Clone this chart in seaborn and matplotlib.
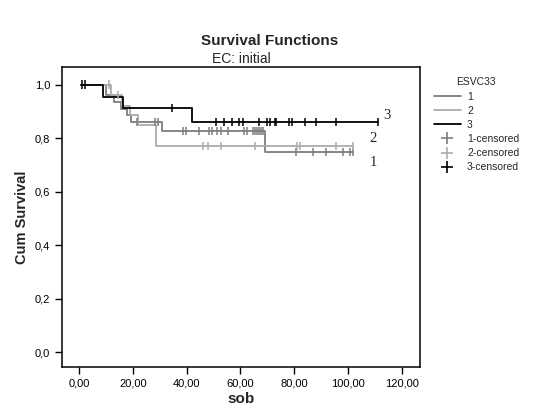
import pandas as pd
import seaborn as sns
import matplotlib.pyplot as plt
from matplotlib.lines import Line2D
from matplotlib.ticker import FuncFormatter

# step functions (time where the level starts, survival level)
g1_times = [0.7, 10, 13, 15.5, 18, 19.5, 31, 69, 102]
g1_surv = [1.0, 0.96, 0.935, 0.91, 0.885, 0.859, 0.827, 0.748, 0.748]
g1_cens = [21.5, 28.2, 29.5, 38.7, 39.8, 44.6, 48.3, 49.4, 51.3, 52.8, 55.4,
           61.3, 62.5, 64.7, 65.5, 66.2, 67, 67.8, 68.5,
           80.7, 87, 91.8, 98, 100.7, 102]

g2_times = [0.7, 12, 16, 19, 22, 28.5, 102]
g2_surv = [1.0, 0.96, 0.92, 0.885, 0.85, 0.77, 0.77]
g2_cens = [11, 14.5, 46, 48, 52.8, 65.4, 81, 82, 95.5, 102]

g3_times = [0.7, 9, 16.5, 42, 111]
g3_surv = [1.0, 0.955, 0.913, 0.859, 0.859]
g3_cens = [1.0, 2.2, 34.6, 51, 54, 57, 59.5, 61, 67, 70, 71, 73, 73.3,
           78, 79, 84, 88, 95.5, 111]

groups = ["1", "2", "3"]
colors = {"1": "#7d7d7d", "2": "#ababab", "3": "#000000"}
xticks = [0, 20, 40, 60, 80, 100, 120]
yticks = [0.0, 0.2, 0.4, 0.6, 0.8, 1.0]


def level_at(times, surv, t):
    s = surv[0]
    for tt, ss in zip(times, surv):
        if tt <= t:
            s = ss
    return s


steps = []
cens = []
for g, times, surv, ct in [("1", g1_times, g1_surv, g1_cens),
                           ("2", g2_times, g2_surv, g2_cens),
                           ("3", g3_times, g3_surv, g3_cens)]:
    for t, s in zip(times, surv):
        steps.append({"time": t, "surv": s, "group": g})
    for t in ct:
        cens.append({"time": t, "surv": level_at(times, surv, t), "group": g})
steps = pd.DataFrame(steps)
cens = pd.DataFrame(cens)

sns.set_style("ticks")
plt.rcParams["font.family"] = ["Liberation Sans", "DejaVu Sans"]

fig = plt.figure(figsize=(5.37, 4.12), dpi=100)
ax = fig.add_axes([0.1155, 0.109, 0.667, 0.728])

sns.lineplot(data=steps, x="time", y="surv", hue="group", hue_order=groups,
             palette=colors, drawstyle="steps-post", estimator=None,
             linewidth=1.3, legend=False, ax=ax)
sns.scatterplot(data=cens, x="time", y="surv", hue="group", hue_order=groups,
                palette=colors, marker="|", s=35, linewidth=1.1,
                legend=False, ax=ax, zorder=3)

ax.set_xlim(-6.3, 126.8)
ax.set_ylim(-0.056, 1.065)
ax.set_xticks(xticks)
ax.set_yticks(yticks)
ax.xaxis.set_major_formatter(FuncFormatter(lambda v, p: f"{v:.2f}".replace(".", ",")))
ax.yaxis.set_major_formatter(FuncFormatter(lambda v, p: f"{v:.1f}".replace(".", ",")))
ax.tick_params(direction="out", length=5, width=1, labelsize=8, colors="black")
for sp in ax.spines.values():
    sp.set_linewidth(1.1)
    sp.set_color("black")

ax.set_xlabel("sob", fontsize=11, fontweight="bold", labelpad=2)
ax.set_ylabel("Cum Survival", fontsize=10.5, fontweight="bold", labelpad=4)
ax.set_title("EC: initial", fontsize=10, pad=3)
fig.text(0.503, 0.9, "Survival Functions", ha="center", va="center",
         fontsize=11, fontweight="bold")

# end-of-curve labels
for lab, x, y in [("3", 113, 0.885), ("2", 108, 0.80), ("1", 108, 0.71)]:
    ax.text(x, y, lab, fontsize=10.5, family="Liberation Serif", va="center")

handles = [Line2D([], [], color=colors[g], lw=1.3) for g in groups]
handles += [Line2D([], [], color=colors[g], marker="+", ms=8, lw=0, mew=1.2) for g in groups]
labels = groups + [f"{g}-censored" for g in groups]
fig.legend(handles, labels, title="ESVC33", loc="upper left",
           bbox_to_anchor=(0.79, 0.835), frameon=False, fontsize=7.5,
           title_fontsize=7.5, handlelength=2.6, labelspacing=0.4,
           handletextpad=0.6)

fig.savefig("out.png", dpi=100)
